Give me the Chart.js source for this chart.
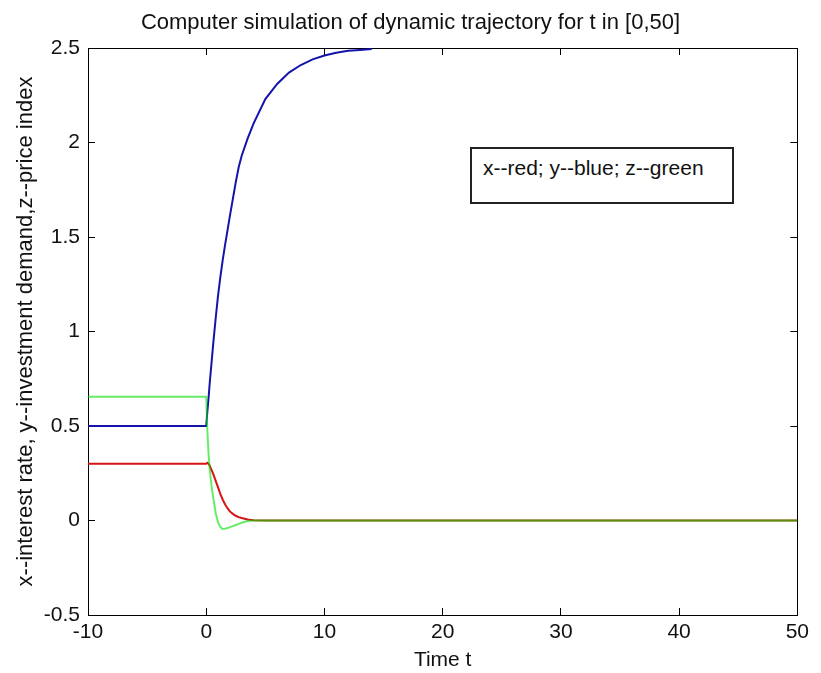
<!DOCTYPE html>
<html>
<head>
<meta charset="utf-8">
<script src="https://cdn.jsdelivr.net/npm/chart.js@4.4.0/dist/chart.umd.min.js"></script>
<style>
  html, body { margin: 0; padding: 0; background: #ffffff; }
  #wrap { position: relative; width: 821px; height: 673px; }
  #legendBox {
    position: absolute; left: 470px; top: 147px; width: 264px; height: 57px;
    box-sizing: border-box; border: 2px solid #222; background: #fff;
    padding-left: 11px; padding-top: 7px;
    font-family: "Liberation Sans", Arial, sans-serif; font-size: 21px; line-height: 24px;
    color: #111; white-space: nowrap;
  }
</style>
</head>
<body>
<div id="wrap">
  <canvas id="c" width="821" height="673"></canvas>
  <div id="legendBox">x--red; y--blue; z--green</div>
</div>
<script>
// ---- data ----
const timePoints = [-10, 0, 0.1, 0.2, 0.3, 0.4, 0.5, 0.6, 0.8, 1.0, 1.2, 1.4, 1.6, 1.8, 2.0, 2.25, 2.5, 2.75, 3.0, 3.5, 4, 5, 6, 7, 8, 9, 10, 11, 12, 13, 14, 20, 30, 40, 50];
const xInterestRate = [0.3, 0.3, 0.305, 0.3, 0.29, 0.275, 0.26, 0.245, 0.21, 0.175, 0.14, 0.11, 0.085, 0.065, 0.048, 0.035, 0.025, 0.018, 0.013, 0.005, 0.001, 0, 0, 0, 0, 0, 0, 0, 0, 0, 0, 0, 0, 0, 0];
const yInvestmentDemand = [0.5, 0.5, 0.58, 0.65, 0.73, 0.8, 0.87, 0.94, 1.07, 1.19, 1.29, 1.38, 1.46, 1.535, 1.61, 1.7, 1.79, 1.87, 1.93, 2.02, 2.1, 2.23, 2.31, 2.37, 2.41, 2.44, 2.46, 2.475, 2.485, 2.49, 2.495, null, null, null, null];
const zPriceIndex = [0.655, 0.655, 0.47, 0.35, 0.27, 0.21, 0.16, 0.12, 0.04, -0.01, -0.035, -0.045, -0.044, -0.04, -0.035, -0.03, -0.024, -0.018, -0.012, -0.003, 0, 0, 0, 0, 0, 0, 0, 0, 0, 0, 0, 0, 0, 0, 0];
const xTickValues = [-10, 0, 10, 20, 30, 40, 50];
const xTickLabels = ['-10', '0', '10', '20', '30', '40', '50'];
const yTickValues = [-0.5, 0, 0.5, 1, 1.5, 2, 2.5];
const yTickLabels = ['-0.5', '0', '0.5', '1', '1.5', '2', '2.5'];
const chartTitle = 'Computer simulation of dynamic trajectory for t in [0,50]';
const xAxisTitle = 'Time t';
const yAxisTitle = 'x--interest rate, y--investment demand,z--price index';

const toPts = (arr) => timePoints.map((t, i) => ({ x: t, y: arr[i] }));
const FONT = '"Liberation Sans", Arial, sans-serif';

const labelFor = (values, labels) => (v) => {
  const i = values.findIndex(t => Math.abs(t - v) < 1e-9);
  return i >= 0 ? labels[i] : '';
};

const tickGrid = { display: true, drawOnChartArea: false, drawTicks: true, tickLength: -7, color: '#000', lineWidth: 1 };
const border = { display: true, color: '#000', width: 1 };

new Chart(document.getElementById('c'), {
  type: 'line',
  data: {
    datasets: [
      { label: 'x', data: toPts(xInterestRate), borderColor: 'rgb(215,20,20)', borderWidth: 2, pointRadius: 0, tension: 0, order: 3, spanGaps: false },
      { label: 'y', data: toPts(yInvestmentDemand), borderColor: 'rgb(20,20,170)', borderWidth: 2, pointRadius: 0, tension: 0, order: 2, spanGaps: false },
      { label: 'z', data: toPts(zPriceIndex), borderColor: 'rgba(0,225,0,0.6)', borderWidth: 2, pointRadius: 0, tension: 0, order: 1, spanGaps: false }
    ]
  },
  options: {
    responsive: false,
    devicePixelRatio: 1,
    animation: false,
    events: [],
    layout: { padding: 0 },
    plugins: {
      legend: { display: false },
      tooltip: { enabled: false },
      title: {
        display: true, text: chartTitle, color: '#111',
        font: { family: FONT, size: 22, weight: 'normal', lineHeight: 1.2 },
        padding: { top: 10, bottom: 11.6 }
      }
    },
    scales: {
      x: {
        type: 'linear', position: 'bottom', min: -10, max: 50,
        afterBuildTicks: (s) => { s.ticks = xTickValues.map(v => ({ value: v })); },
        afterFit: (s) => { s.height = 58; },
        ticks: { callback: labelFor(xTickValues, xTickLabels), color: '#111', font: { family: FONT, size: 21 }, padding: 12, maxRotation: 0, autoSkip: false },
        grid: tickGrid, border: border,
        title: { display: true, text: xAxisTitle, color: '#111', font: { family: FONT, size: 21 }, padding: { top: 0, bottom: 0 } }
      },
      x2: {
        type: 'linear', position: 'top', min: -10, max: 50,
        afterBuildTicks: (s) => { s.ticks = xTickValues.map(v => ({ value: v })); },
        afterFit: (s) => { s.height = 0; },
        ticks: { callback: () => '', padding: 0 },
        grid: tickGrid, border: border
      },
      y: {
        type: 'linear', position: 'left', min: -0.5, max: 2.5,
        afterBuildTicks: (s) => { s.ticks = yTickValues.map(v => ({ value: v })); },
        afterFit: (s) => { s.width = 88; },
        ticks: { callback: labelFor(yTickValues, yTickLabels), color: '#111', font: { family: FONT, size: 21 }, padding: 15, autoSkip: false },
        grid: tickGrid, border: border,
        title: { display: true, text: yAxisTitle, color: '#111', font: { family: FONT, size: 22 }, padding: { top: 13, bottom: 13 } }
      },
      y2: {
        type: 'linear', position: 'right', min: -0.5, max: 2.5,
        afterBuildTicks: (s) => { s.ticks = yTickValues.map(v => ({ value: v })); },
        afterFit: (s) => { s.width = 12; },
        ticks: { callback: () => '', padding: 0 },
        grid: tickGrid, border: border
      }
    }
  }
});
</script>
</body>
</html>
